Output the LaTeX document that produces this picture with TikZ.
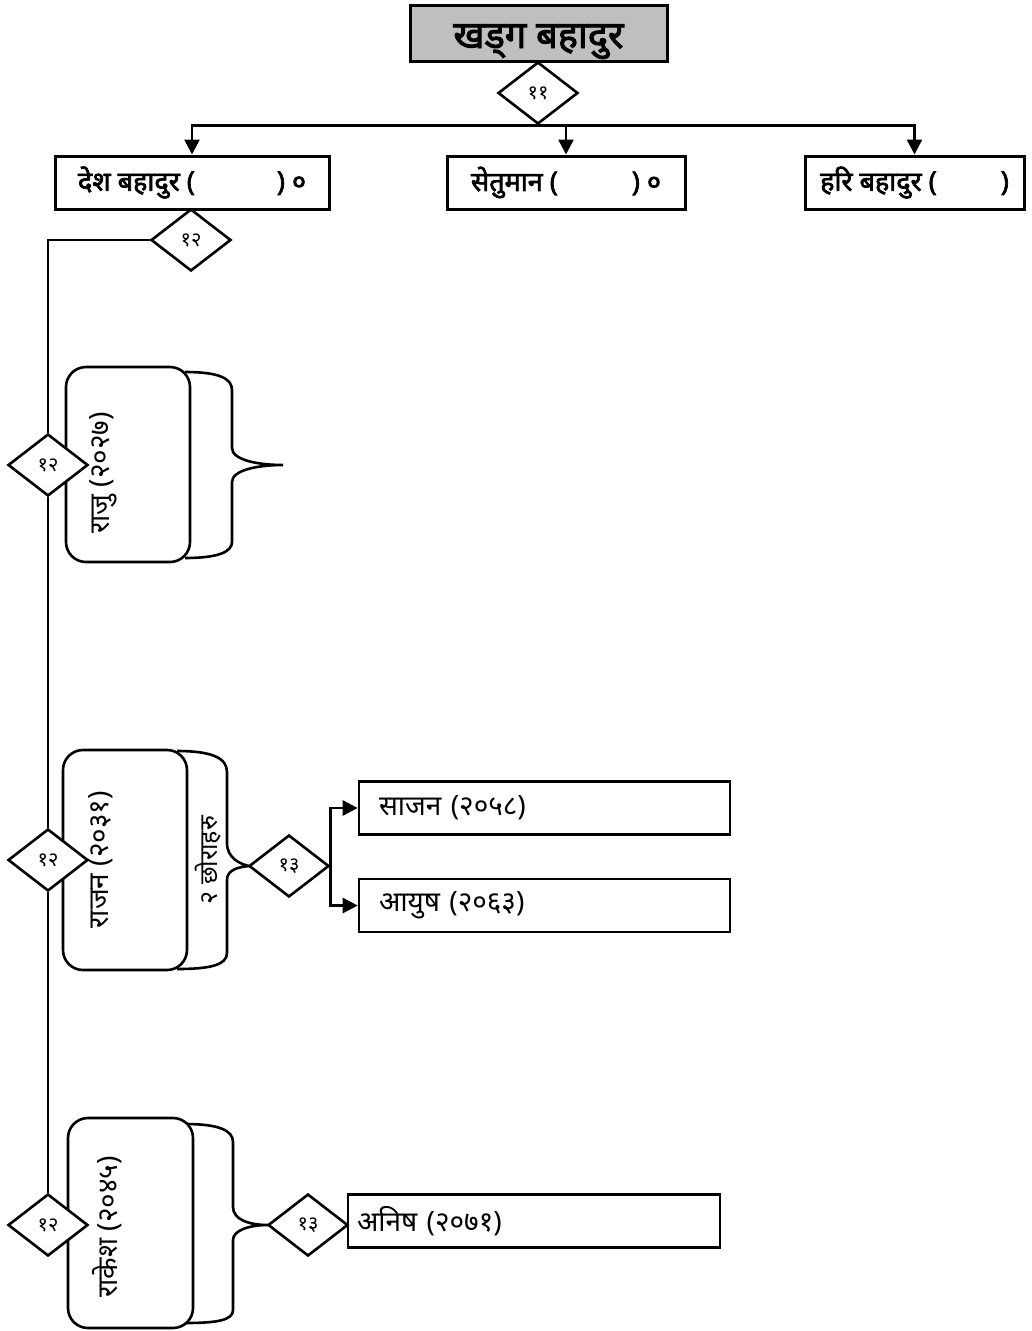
\documentclass[tikz,border=0pt]{standalone}
\usepackage{fontspec}
\newfontfamily\dev[Script=Devanagari]{Noto Sans}
\newfontfamily\devbold[Script=Devanagari, FakeBold=2.5]{Noto Sans}
\usetikzlibrary{shapes.geometric,arrows.meta}
\tikzset{
  box/.style={draw, line width=3pt, rectangle, minimum height=53pt, inner sep=0pt, font=\devbold\fontsize{27}{30}\selectfont},
  kid/.style={draw, line width=2.6pt, rounded corners=20pt, fill=white},
  rel/.style={draw, diamond, line width=2.6pt, fill=white, minimum width=80pt, minimum height=62pt, inner sep=0pt, font=\dev\fontsize{20}{22}\selectfont},
  leaf/.style={draw, line width=2.6pt, minimum width=371pt, minimum height=53pt, inner xsep=20pt, text width=331pt, align=left, font=\dev\fontsize{28}{30}\selectfont},
  vtext/.style={rotate=90, font=\dev\fontsize{28}{30}\selectfont},
  arr/.style={-{Triangle[length=15pt,width=15pt]}},
}
\begin{document}
\begin{tikzpicture}[x=1pt,y=-1pt,line width=2.6pt]
\useasboundingbox (0,0) rectangle (1032,1331);
% top generation
\node[box, fill=gray!50, minimum width=257pt, minimum height=56pt, text height=30pt, text depth=0pt, font=\devbold\fontsize{38}{40}\selectfont] (khadga) at (538.5,33) {खड्ग बहादुर};
\node[rel] (d11) at (538,93) {११};
\node[box, minimum width=274pt] (desh) at (192,182.5) {देश बहादुर (\hspace{82pt}) ०};
\node[box, minimum width=238pt] (setu) at (566,182.5) {सेतुमान (\hspace{74pt}) ०};
\node[box, minimum width=219pt] (hari) at (914.5,182.5) {हरि बहादुर (\hspace{64pt})};
\draw[arr] (d11.south) -| (desh.north);
\draw[arr] (d11.south) -| (setu.north);
\draw[arr] (d11.south) -| (hari.north);
\node[rel] (d12) at (191,240) {१२};
% braces
\draw (185,372) .. controls (218,372) and (232,378) .. (232,390) -- (232,448)
  .. controls (232,460) and (258,465) .. (283,465) .. controls (258,465) and (232,470) .. (232,482)
  -- (232,542) .. controls (232,552) and (218,558) .. (185,558);
\draw (177,751) .. controls (212,751) and (227,758) .. (227,772) -- (227,843)
  .. controls (227,858) and (240,864) .. (249,866) .. controls (238,867) and (227,870) .. (227,880)
  -- (227,953) .. controls (227,965) and (210,969) .. (177,969);
\draw (185,1124) .. controls (218,1124) and (233,1130) .. (233,1142) -- (233,1207)
  .. controls (233,1220) and (250,1225) .. (268,1225) .. controls (250,1225) and (233,1230) .. (233,1240)
  -- (233,1310) .. controls (233,1320) and (218,1323) .. (185,1323);
% children
\node[kid, minimum width=124pt, minimum height=195pt] (raju) at (128,464.5) {};
\node[kid, minimum width=124pt, minimum height=220pt] (rajan) at (125,860) {};
\node[kid, minimum width=125pt, minimum height=210pt] (rakesh) at (130.5,1223) {};
\node[vtext] (rajutxt) at (103,473) {राजु (२०२७)};
\node[vtext] (rajantxt) at (101,860) {राजन (२०३१)};
\node[vtext] (rakeshtxt) at (107,1227) {राकेश (२०४५)};
\node[vtext, font=\dev\fontsize{25}{28}\selectfont] (chora) at (208,860) {२ छोराहरु};
\node[rel] (r1) at (48,465) {१२};
\node[rel] (r2) at (48,860) {१२};
\node[rel] (r3) at (48,1225) {१२};
\draw (d12.west) -| (r1.north);
\draw (r1.south) -- (r2.north);
\draw (r2.south) -- (r3.north);
% grandchildren
\node[rel] (d13) at (289,866) {१३};
\node[rel] (d13b) at (308,1225) {१३};
\node[leaf] (saajan) at (544.5,808) {साजन (२०५८)};
\node[leaf] (aayush) at (544.5,905.5) {आयुष (२०६३)};
\node[leaf, minimum width=372pt, inner xsep=9pt, text width=354pt] (anish) at (534,1221) {अनिष (२०७१)};
\draw[arr] (d13.east) |- (saajan.west);
\draw[arr] (d13.east) |- (aayush.west);
\end{tikzpicture}
\end{document}
